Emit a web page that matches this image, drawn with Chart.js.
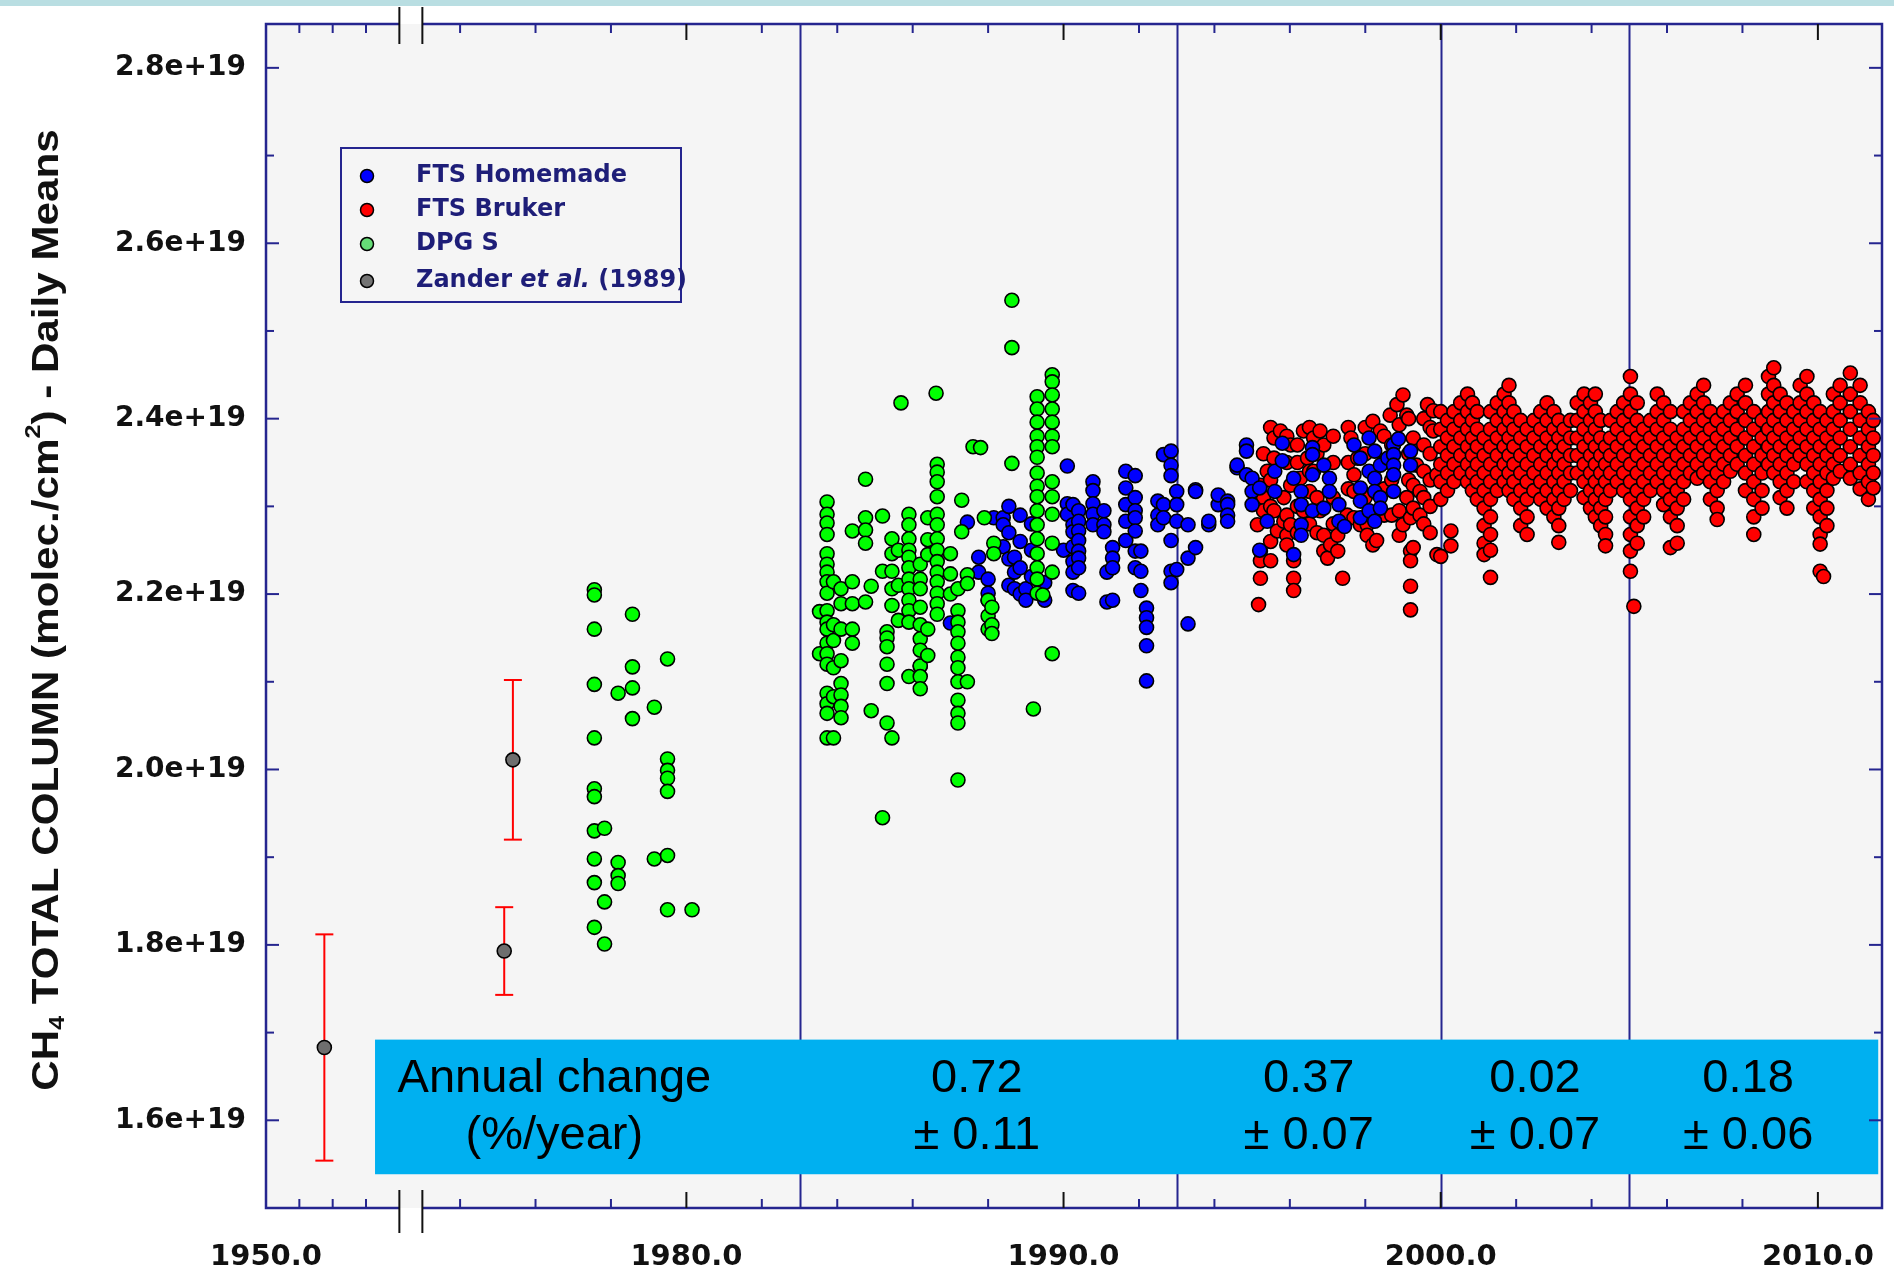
<!DOCTYPE html>
<html>
<head>
<meta charset="utf-8">
<title>CH4 total column - daily means</title>
<script src="https://cdn.jsdelivr.net/npm/chart.js@4.4.1/dist/chart.umd.min.js"></script>
<style>
    html, body { margin: 0; padding: 0; background: #ffffff; }
    #wrap { position: relative; width: 1894px; height: 1272px; }
    #band { position: absolute; left: 0; top: 0; width: 1894px; height: 6px; background: #b9dee2; z-index: 2; }
</style>
</head>
<body>
<div id="wrap">
    <div id="band"></div>
    <canvas id="ch4Chart"></canvas>
</div>
<script>
// Column values are in units of 1e19 molec./cm2

// Time axis is broken: 1950-1954 squeezed, 1954-1973 cut out
const BREAK_FROM = 1954;
const BREAK_TO = 1973;
const LEFT_STRETCH = 0.884;
const BREAK_GAP = 0.61;
const X_END = 2011.7;

const xLabelYears = [1950, 1980, 1990, 2000, 2010];
const xMinorYears = [1951, 1952, 1953, 1974, 1976, 1978, 1982, 1984, 1986, 1988,
    1992, 1994, 1996, 1998, 2002, 2004, 2006, 2008];
const yLabelValues = [1.6, 1.8, 2.0, 2.2, 2.4, 2.6, 2.8];
const yMinorValues = [1.7, 1.9, 2.1, 2.3, 2.5, 2.7];

// Trend periods and annual change (%/year)
const periodBounds = [1983, 1993, 2000, 2005];
const trendCenters = [1987.7, 1996.5, 2002.5, 2008.15];
const trendRates = ['0.72', '0.37', '0.02', '0.18'];
const trendErrors = ['\u00b1 0.11', '\u00b1 0.07', '\u00b1 0.07', '\u00b1 0.06'];

// Zander et al. (1989) historical values with error bars
const zanderYears = [1951.75, 1975.17, 1975.40];
const zanderValues = [1.683, 1.793, 2.011];
const zanderErrors = [0.129, 0.050, 0.091];

// [year, [daily means ...]]
const dpgsColumns = [
    [1977.56, [2.205, 2.199, 2.160, 2.097, 2.036, 1.978, 1.969, 1.930, 1.898, 1.871, 1.820]],
    [1977.83, [1.933, 1.849, 1.801]],
    [1978.19, [2.087, 1.894, 1.879, 1.870]],
    [1978.57, [2.177, 2.117, 2.093, 2.058]],
    [1979.15, [2.071, 1.898]],
    [1979.50, [2.126, 2.012, 1.999, 1.990, 1.975, 1.902, 1.840]],
    [1980.15, [1.840]],
    [1983.53, [2.132, 2.180]],
    [1983.73, [2.305, 2.291, 2.281, 2.268, 2.246, 2.234, 2.225, 2.214, 2.201, 2.181, 2.168, 2.160, 2.144, 2.132, 2.120, 2.087, 2.075, 2.064, 2.036]],
    [1983.90, [2.214, 2.165, 2.147, 2.116, 2.083, 2.036]],
    [1984.10, [2.206, 2.189, 2.160, 2.124, 2.098, 2.085, 2.072, 2.059]],
    [1984.40, [2.272, 2.214, 2.189, 2.160, 2.144]],
    [1984.75, [2.331, 2.287, 2.273, 2.258, 2.191]],
    [1984.90, [2.209, 2.067]],
    [1985.20, [2.289, 2.226, 1.945]],
    [1985.32, [2.157, 2.150, 2.140, 2.120, 2.098, 2.053]],
    [1985.45, [2.263, 2.246, 2.226, 2.206, 2.187, 2.036]],
    [1985.62, [2.250, 2.210, 2.170]],
    [1985.69, [2.418]],
    [1985.90, [2.291, 2.279, 2.263, 2.250, 2.242, 2.230, 2.217, 2.206, 2.193, 2.181, 2.168, 2.106]],
    [1986.20, [2.234, 2.217, 2.206, 2.185, 2.165, 2.149, 2.136, 2.118, 2.106, 2.092]],
    [1986.40, [2.287, 2.262, 2.245, 2.160, 2.130]],
    [1986.62, [2.429]],
    [1986.65, [2.348, 2.339, 2.328, 2.311, 2.291, 2.279, 2.263, 2.250, 2.237, 2.225, 2.214, 2.201, 2.189, 2.177]],
    [1987.00, [2.246, 2.223, 2.200]],
    [1987.20, [2.206, 2.181, 2.168, 2.157, 2.144, 2.128, 2.116, 2.100, 2.079, 2.064, 2.053, 1.988]],
    [1987.30, [2.307, 2.271]],
    [1987.45, [2.222, 2.212, 2.100]],
    [1987.60, [2.368]],
    [1987.80, [2.367]],
    [1987.90, [2.287]],
    [1988.00, [2.193, 2.175, 2.160]],
    [1988.10, [2.185, 2.165, 2.155]],
    [1988.15, [2.258, 2.246]],
    [1988.63, [2.535, 2.481, 2.349]],
    [1989.20, [2.069]],
    [1989.30, [2.425, 2.411, 2.396, 2.380, 2.368, 2.356, 2.338, 2.323, 2.311, 2.295, 2.279, 2.263, 2.246, 2.230, 2.217, 2.201]],
    [1989.45, [2.199]],
    [1989.70, [2.450, 2.442, 2.427, 2.411, 2.396, 2.380, 2.368, 2.328, 2.311, 2.291, 2.258, 2.225, 2.132]]
];

const homemadeColumns = [
    [1986.20, [2.118]],
    [1987.00, [2.167]],
    [1987.45, [2.282]],
    [1987.75, [2.242, 2.225]],
    [1988.00, [2.217, 2.201, 2.193]],
    [1988.15, [2.287]],
    [1988.40, [2.287, 2.279, 2.254]],
    [1988.55, [2.300, 2.270, 2.240, 2.210]],
    [1988.70, [2.242, 2.225, 2.206]],
    [1988.85, [2.290, 2.260, 2.230, 2.200]],
    [1989.00, [2.206, 2.193]],
    [1989.15, [2.280, 2.250, 2.220]],
    [1989.50, [2.213, 2.193]],
    [1990.00, [2.250]],
    [1990.10, [2.346, 2.303, 2.291]],
    [1990.25, [2.302, 2.279, 2.271, 2.254, 2.237, 2.225, 2.204]],
    [1990.40, [2.295, 2.283, 2.272, 2.261, 2.249, 2.241, 2.230, 2.201]],
    [1990.78, [2.328, 2.318, 2.303, 2.291, 2.279]],
    [1991.07, [2.295, 2.279, 2.271]],
    [1991.15, [2.225, 2.191]],
    [1991.30, [2.253, 2.241, 2.230, 2.193]],
    [1991.65, [2.340, 2.321, 2.302, 2.283, 2.261]],
    [1991.90, [2.335, 2.310, 2.295, 2.287, 2.272, 2.249, 2.230]],
    [1992.05, [2.249, 2.226, 2.204]],
    [1992.20, [2.184, 2.173, 2.162, 2.141, 2.101]],
    [1992.50, [2.306, 2.290, 2.279]],
    [1992.65, [2.359, 2.302, 2.287]],
    [1992.85, [2.363, 2.347, 2.335, 2.261, 2.226, 2.213]],
    [1993.00, [2.317, 2.302, 2.283, 2.228]],
    [1993.30, [2.279, 2.241, 2.166]],
    [1993.50, [2.319, 2.317, 2.253]],
    [1993.85, [2.279, 2.283]],
    [1994.10, [2.302, 2.313]],
    [1994.35, [2.306, 2.302, 2.290, 2.283]],
    [1994.60, [2.344, 2.347]],
    [1994.85, [2.370, 2.363, 2.336]],
    [1995.00, [2.332, 2.317, 2.302]],
    [1995.20, [2.321, 2.250]],
    [1995.40, [2.283]],
    [1995.60, [2.340, 2.317]],
    [1995.80, [2.372, 2.352]],
    [1996.10, [2.332, 2.245]],
    [1996.30, [2.317, 2.302, 2.279, 2.267]],
    [1996.60, [2.367, 2.359, 2.336, 2.295]],
    [1996.90, [2.347, 2.298]],
    [1997.05, [2.332, 2.317]],
    [1997.30, [2.302, 2.283]],
    [1997.45, [2.277]],
    [1997.70, [2.370]],
    [1997.87, [2.355, 2.321, 2.306, 2.287]],
    [1998.10, [2.378, 2.340, 2.295]],
    [1998.25, [2.363, 2.332, 2.317, 2.283]],
    [1998.40, [2.347, 2.310, 2.298]],
    [1998.60, [2.355]],
    [1998.75, [2.370, 2.359, 2.347, 2.336, 2.317]],
    [1998.88, [2.377]],
    [1999.20, [2.363, 2.347]]
];

const brukerColumns = [
    [1995.14, [2.279]],
    [1995.17, [2.188]],
    [1995.22, [2.324, 2.249, 2.238, 2.218]],
    [1995.30, [2.360, 2.310, 2.295]],
    [1995.40, [2.340]],
    [1995.49, [2.390, 2.330, 2.300, 2.260, 2.238]],
    [1995.58, [2.378, 2.355, 2.295]],
    [1995.67, [2.272]],
    [1995.75, [2.386]],
    [1995.84, [2.310, 2.283]],
    [1995.92, [2.380, 2.350, 2.290, 2.267, 2.256]],
    [1996.02, [2.370, 2.324, 2.279]],
    [1996.10, [2.238, 2.218, 2.204]],
    [1996.20, [2.370, 2.350, 2.300, 2.270]],
    [1996.28, [2.332]],
    [1996.36, [2.386, 2.295]],
    [1996.47, [2.355]],
    [1996.52, [2.390, 2.340, 2.317, 2.280]],
    [1996.63, [2.378, 2.340]],
    [1996.72, [2.360, 2.310, 2.270]],
    [1996.80, [2.386, 2.295]],
    [1996.90, [2.370, 2.267, 2.249]],
    [1997.00, [2.241]],
    [1997.08, [2.256]],
    [1997.15, [2.380, 2.350, 2.310, 2.280]],
    [1997.27, [2.267, 2.249]],
    [1997.40, [2.279, 2.218]],
    [1997.52, [2.290]],
    [1997.55, [2.390, 2.350, 2.320]],
    [1997.62, [2.378]],
    [1997.70, [2.336, 2.317, 2.287]],
    [1997.80, [2.355]],
    [1997.87, [2.279]],
    [1998.00, [2.390, 2.360, 2.310]],
    [1998.05, [2.279, 2.267]],
    [1998.20, [2.397, 2.256]],
    [1998.30, [2.261]],
    [1998.40, [2.386]],
    [1998.50, [2.380, 2.350, 2.320, 2.290]],
    [1998.66, [2.404]],
    [1998.70, [2.370, 2.330, 2.290]],
    [1998.84, [2.416]],
    [1998.90, [2.393, 2.295, 2.267]],
    [1999.00, [2.427, 2.279]],
    [1999.10, [2.404, 2.310]],
    [1999.15, [2.400, 2.360, 2.330]],
    [1999.20, [2.287, 2.249, 2.238, 2.209, 2.182]],
    [1999.27, [2.378, 2.324, 2.298, 2.253]],
    [1999.36, [2.347]],
    [1999.45, [2.317, 2.290]],
    [1999.55, [2.400, 2.370, 2.340, 2.310, 2.280]],
    [1999.65, [2.416]],
    [1999.72, [2.390, 2.360, 2.330, 2.300, 2.270]],
    [1999.80, [2.409, 2.386]],
    [1999.90, [2.336, 2.245]],
    [2000.00, [2.408, 2.388, 2.368, 2.348, 2.328, 2.308, 2.243]],
    [2000.18, [2.398, 2.378, 2.358, 2.338, 2.318]],
    [2000.27, [2.272, 2.255]],
    [2000.35, [2.408, 2.388, 2.368, 2.348, 2.328]],
    [2000.53, [2.418, 2.398, 2.378, 2.358, 2.338]],
    [2000.71, [2.428, 2.408, 2.388, 2.368, 2.348, 2.328]],
    [2000.84, [2.418, 2.398, 2.378, 2.358, 2.338, 2.318]],
    [2000.97, [2.408, 2.388, 2.368, 2.348, 2.328, 2.308]],
    [2001.15, [2.378, 2.358, 2.338, 2.318, 2.298, 2.278, 2.258, 2.245]],
    [2001.32, [2.408, 2.388, 2.368, 2.348, 2.328, 2.308, 2.288, 2.268, 2.250, 2.219]],
    [2001.50, [2.418, 2.398, 2.378, 2.358, 2.338, 2.318]],
    [2001.68, [2.428, 2.408, 2.388, 2.368, 2.348, 2.328]],
    [2001.81, [2.438, 2.418, 2.398, 2.378, 2.358, 2.338, 2.318]],
    [2001.94, [2.408, 2.388, 2.368, 2.348, 2.328, 2.308]],
    [2002.12, [2.398, 2.378, 2.358, 2.338, 2.318, 2.298, 2.278]],
    [2002.29, [2.388, 2.368, 2.348, 2.328, 2.308, 2.288, 2.268]],
    [2002.47, [2.398, 2.378, 2.358, 2.338, 2.318]],
    [2002.65, [2.408, 2.388, 2.368, 2.348, 2.328, 2.308]],
    [2002.82, [2.418, 2.398, 2.378, 2.358, 2.338, 2.318, 2.298]],
    [2003.00, [2.408, 2.388, 2.368, 2.348, 2.328, 2.308, 2.288]],
    [2003.13, [2.398, 2.378, 2.358, 2.338, 2.318, 2.298, 2.278, 2.259]],
    [2003.27, [2.388, 2.368, 2.348, 2.328, 2.308]],
    [2003.44, [2.398, 2.378, 2.358, 2.338, 2.318]],
    [2003.62, [2.418, 2.398, 2.378, 2.358, 2.338]],
    [2003.80, [2.428, 2.408, 2.388, 2.368, 2.348, 2.328, 2.310]],
    [2003.97, [2.418, 2.398, 2.378, 2.358, 2.338, 2.318, 2.298]],
    [2004.10, [2.428, 2.408, 2.388, 2.368, 2.348, 2.328, 2.308, 2.288]],
    [2004.24, [2.398, 2.378, 2.358, 2.338, 2.318, 2.298, 2.278]],
    [2004.37, [2.368, 2.348, 2.328, 2.308, 2.288, 2.268, 2.255]],
    [2004.50, [2.398, 2.378, 2.358, 2.338, 2.318]],
    [2004.68, [2.408, 2.388, 2.368, 2.348, 2.328]],
    [2004.85, [2.418, 2.398, 2.378, 2.358, 2.338, 2.318]],
    [2005.03, [2.448, 2.428, 2.408, 2.388, 2.368, 2.348, 2.328, 2.308, 2.288, 2.268, 2.249, 2.226]],
    [2005.12, [2.186]],
    [2005.21, [2.418, 2.398, 2.378, 2.358, 2.338, 2.318, 2.298, 2.278, 2.258]],
    [2005.38, [2.388, 2.368, 2.348, 2.328, 2.308, 2.288]],
    [2005.56, [2.398, 2.378, 2.358, 2.338, 2.318]],
    [2005.74, [2.428, 2.408, 2.388, 2.368, 2.348, 2.328]],
    [2005.91, [2.418, 2.398, 2.378, 2.358, 2.338, 2.318, 2.302]],
    [2006.09, [2.408, 2.388, 2.368, 2.348, 2.328, 2.308, 2.288, 2.253]],
    [2006.27, [2.378, 2.358, 2.338, 2.318, 2.298, 2.278, 2.258]],
    [2006.44, [2.408, 2.388, 2.368, 2.348, 2.328, 2.308]],
    [2006.62, [2.418, 2.398, 2.378, 2.358, 2.338]],
    [2006.80, [2.428, 2.408, 2.388, 2.368, 2.348, 2.332]],
    [2006.97, [2.438, 2.418, 2.398, 2.378, 2.358, 2.338]],
    [2007.15, [2.408, 2.388, 2.368, 2.348, 2.328, 2.308]],
    [2007.33, [2.398, 2.378, 2.358, 2.338, 2.318, 2.298, 2.285]],
    [2007.50, [2.408, 2.388, 2.368, 2.348, 2.328]],
    [2007.68, [2.418, 2.398, 2.378, 2.358, 2.340]],
    [2007.86, [2.428, 2.408, 2.388, 2.368, 2.348]],
    [2008.08, [2.438, 2.418, 2.398, 2.378, 2.358, 2.338, 2.318]],
    [2008.30, [2.408, 2.388, 2.368, 2.348, 2.328, 2.308, 2.288, 2.268]],
    [2008.52, [2.398, 2.378, 2.358, 2.338, 2.318, 2.298]],
    [2008.69, [2.448, 2.428, 2.408, 2.388, 2.368, 2.348]],
    [2008.83, [2.458, 2.438, 2.418, 2.398, 2.378, 2.358, 2.338]],
    [2009.00, [2.428, 2.408, 2.388, 2.368, 2.348, 2.328, 2.310]],
    [2009.18, [2.418, 2.398, 2.378, 2.358, 2.338, 2.318, 2.298]],
    [2009.36, [2.408, 2.388, 2.368, 2.348, 2.328]],
    [2009.53, [2.438, 2.418, 2.398, 2.378, 2.358]],
    [2009.71, [2.448, 2.428, 2.408, 2.388, 2.368, 2.348, 2.328]],
    [2009.89, [2.418, 2.398, 2.378, 2.358, 2.338, 2.318, 2.298]],
    [2010.06, [2.408, 2.388, 2.368, 2.348, 2.328, 2.308, 2.288, 2.268, 2.257, 2.226]],
    [2010.15, [2.220]],
    [2010.24, [2.398, 2.378, 2.358, 2.338, 2.318, 2.298, 2.278]],
    [2010.41, [2.428, 2.408, 2.388, 2.368, 2.348, 2.332]],
    [2010.59, [2.438, 2.418, 2.398, 2.378, 2.358, 2.340]],
    [2010.86, [2.452, 2.428, 2.408, 2.388, 2.368, 2.348, 2.332]],
    [2011.12, [2.438, 2.418, 2.398, 2.378, 2.358, 2.338, 2.320]],
    [2011.34, [2.408, 2.388, 2.368, 2.348, 2.328, 2.308]],
    [2011.47, [2.398, 2.378, 2.358, 2.338, 2.321]]
];

const NAVY = '#25258f';
const PLOT_BG = '#f5f5f5';
const BOX_BLUE = '#00b0f0';

function axisPos(year) {
    if (year <= BREAK_FROM) return (year - 1950) * LEFT_STRETCH;
    return (BREAK_FROM - 1950) * LEFT_STRETCH + BREAK_GAP + (year - BREAK_TO);
}

function columnsToPoints(columns) {
    const pts = [];
    columns.forEach(([year, values]) => {
        values.forEach(v => pts.push({ x: axisPos(year), y: v }));
    });
    return pts;
}

const zanderPoints = zanderYears.map((yr, i) => ({ x: axisPos(yr), y: zanderValues[i] }));

function line(ctx, x1, y1, x2, y2) {
    ctx.beginPath();
    ctx.moveTo(x1, y1);
    ctx.lineTo(x2, y2);
    ctx.stroke();
}

// Frame, ticks, break marks, trend box, legend and axis title
const decorPlugin = {
    id: 'decor',
    beforeDraw(chart) {
        const { ctx, chartArea: a } = chart;
        ctx.save();
        ctx.fillStyle = PLOT_BG;
        ctx.fillRect(a.left, a.top, a.right - a.left, a.bottom - a.top);
        ctx.restore();
    },
    beforeDatasetsDraw(chart) {
        const { ctx, chartArea: a, scales: { x, y } } = chart;
        ctx.save();
        ctx.strokeStyle = NAVY;
        ctx.lineWidth = 2;
        periodBounds.forEach(yr => {
            const px = Math.round(x.getPixelForValue(axisPos(yr))) + 0.5;
            line(ctx, px, a.top, px, a.bottom);
        });
        // error bars of the historical values
        ctx.strokeStyle = '#ff0000';
        ctx.lineWidth = 2;
        zanderYears.forEach((yr, i) => {
            const px = x.getPixelForValue(axisPos(yr));
            const hi = y.getPixelForValue(zanderValues[i] + zanderErrors[i]);
            const lo = y.getPixelForValue(zanderValues[i] - zanderErrors[i]);
            line(ctx, px, hi, px, lo);
            line(ctx, px - 9, hi, px + 9, hi);
            line(ctx, px - 9, lo, px + 9, lo);
        });
        ctx.restore();
    },
    afterDatasetsDraw(chart) {
        const { ctx, chartArea: a, scales: { x, y } } = chart;
        ctx.save();

        // annual change box
        const bx1 = x.getPixelForValue(axisPos(1953.27));
        const bx2 = x.getPixelForValue(axisPos(2011.6));
        const by1 = y.getPixelForValue(1.692);
        const by2 = y.getPixelForValue(1.5385);
        ctx.fillStyle = BOX_BLUE;
        ctx.fillRect(bx1, by1, bx2 - bx1, by2 - by1);
        const row1 = by1 + (by2 - by1) * 0.29;
        const row2 = by1 + (by2 - by1) * 0.72;
        ctx.fillStyle = '#000';
        ctx.font = '47px "Liberation Sans", Arial, sans-serif';
        ctx.textAlign = 'center';
        ctx.textBaseline = 'middle';
        const hx = x.getPixelForValue(axisPos(1976.5));
        ctx.fillText('Annual change', hx, row1);
        ctx.fillText('(%/year)', hx, row2);
        trendCenters.forEach((yr, i) => {
            const cx = x.getPixelForValue(axisPos(yr));
            ctx.fillText(trendRates[i], cx, row1);
            ctx.fillText(trendErrors[i], cx, row2);
        });

        // plot frame, interrupted at the axis break
        const b1 = x.getPixelForValue(axisPos(BREAK_FROM));
        const b2 = x.getPixelForValue(axisPos(BREAK_TO));
        ctx.strokeStyle = NAVY;
        ctx.lineWidth = 2.5;
        ctx.beginPath();
        ctx.moveTo(b1, a.top); ctx.lineTo(a.left, a.top); ctx.lineTo(a.left, a.bottom); ctx.lineTo(b1, a.bottom);
        ctx.moveTo(b2, a.top); ctx.lineTo(a.right, a.top); ctx.lineTo(a.right, a.bottom); ctx.lineTo(b2, a.bottom);
        ctx.stroke();

        // inward ticks
        ctx.lineWidth = 2;
        xMinorYears.forEach(yr => {
            const px = x.getPixelForValue(axisPos(yr));
            line(ctx, px, a.bottom, px, a.bottom - 9);
            line(ctx, px, a.top, px, a.top + 9);
        });
        yLabelValues.forEach(v => {
            const py = y.getPixelForValue(v);
            line(ctx, a.left, py, a.left + 13, py);
            line(ctx, a.right, py, a.right - 13, py);
        });
        yMinorValues.forEach(v => {
            const py = y.getPixelForValue(v);
            line(ctx, a.left, py, a.left + 8, py);
            line(ctx, a.right, py, a.right - 8, py);
        });
        ctx.strokeStyle = '#111';
        xLabelYears.forEach(yr => {
            const px = x.getPixelForValue(axisPos(yr));
            if (px < a.left + 3) return;
            line(ctx, px, a.bottom, px, a.bottom - 16);
            line(ctx, px, a.top, px, a.top + 16);
        });
        // break marks
        [b1, b2].forEach(px => {
            line(ctx, px, a.top - 17, px, a.top + 20);
            line(ctx, px, a.bottom - 18, px, a.bottom + 25);
        });

        // legend
        const lx = a.left + 75, ly = a.top + 124;
        ctx.fillStyle = PLOT_BG;
        ctx.fillRect(lx, ly, 340, 154);
        ctx.strokeStyle = NAVY;
        ctx.lineWidth = 2;
        ctx.strokeRect(lx, ly, 340, 154);
        const entries = [
            ['#0000ff', 'FTS Homemade', 28],
            ['#ff0000', 'FTS Bruker', 62],
            ['#66dd77', 'DPG S', 96],
            ['#747474', null, 133]
        ];
        ctx.textAlign = 'left';
        ctx.textBaseline = 'middle';
        entries.forEach(([color, text, dy]) => {
            const cy = ly + dy;
            ctx.beginPath();
            ctx.arc(lx + 26, cy, 6.5, 0, Math.PI * 2);
            ctx.fillStyle = color;
            ctx.fill();
            ctx.strokeStyle = '#000';
            ctx.lineWidth = 1.5;
            ctx.stroke();
            ctx.fillStyle = '#1e1e78';
            let tx = lx + 75;
            const parts = text ? [[text, '']] : [['Zander ', ''], ['et al.', 'italic '], [' (1989)', '']];
            parts.forEach(([s, style]) => {
                ctx.font = style + 'bold 24px "DejaVu Sans", Verdana, sans-serif';
                ctx.fillText(s, tx, cy);
                tx += ctx.measureText(s).width;
            });
        });

        ctx.restore();
    },
    afterDraw(chart) {
        const { ctx } = chart;
        // y axis title with sub/superscripts
        const parts = [
            ['CH', 37, 0],
            ['4', 22, 10],
            [' TOTAL COLUMN (molec./cm', 37, 0],
            ['2', 22, -14],
            [') - Daily Means', 37, 0]
        ];
        ctx.save();
        ctx.translate(48, 610);
        ctx.rotate(-Math.PI / 2);
        ctx.scale(1.14, 1);
        ctx.fillStyle = '#111';
        ctx.textBaseline = 'middle';
        ctx.textAlign = 'left';
        let total = 0;
        parts.forEach(([s, size]) => {
            ctx.font = 'bold ' + size + 'px "Liberation Sans", Arial, sans-serif';
            total += ctx.measureText(s).width;
        });
        let tx = -total / 2;
        parts.forEach(([s, size, dy]) => {
            ctx.font = 'bold ' + size + 'px "Liberation Sans", Arial, sans-serif';
            ctx.fillText(s, tx, dy);
            tx += ctx.measureText(s).width;
        });
        ctx.restore();
    }
};

const pointStyle = { pointRadius: 7, pointBorderWidth: 1.6, pointBorderColor: '#000' };

new Chart(document.getElementById('ch4Chart').getContext('2d'), {
    type: 'scatter',
    data: {
        datasets: [
            { label: 'Zander et al. (1989)', data: zanderPoints, pointBackgroundColor: '#6e6e6e', order: 0, ...pointStyle },
            { label: 'DPGS', data: columnsToPoints(dpgsColumns), pointBackgroundColor: '#00ff00', order: 1, ...pointStyle },
            { label: 'FTS Homemade', data: columnsToPoints(homemadeColumns), pointBackgroundColor: '#0000ff', order: 2, ...pointStyle },
            { label: 'FTS Bruker', data: columnsToPoints(brukerColumns), pointBackgroundColor: '#ff0000', order: 3, ...pointStyle }
        ]
    },
    options: {
        responsive: true,
        maintainAspectRatio: false,
        animation: false,
        events: [],
        layout: { padding: { left: 0, right: 12, top: 24, bottom: 0 } },
        plugins: {
            legend: { display: false },
            tooltip: { enabled: false }
        },
        scales: {
            x: {
                type: 'linear',
                min: 0,
                max: axisPos(X_END),
                afterFit: scale => {
                    scale.height = 64;
                    scale.paddingLeft = 0;
                    scale.paddingRight = 0;
                },
                afterBuildTicks: scale => {
                    scale.ticks = xLabelYears.map(yr => ({ value: axisPos(yr) }));
                },
                grid: { display: false },
                border: { display: false },
                ticks: {
                    autoSkip: false,
                    maxRotation: 0,
                    padding: 24,
                    color: '#111',
                    font: { family: '"DejaVu Sans", Verdana, sans-serif', weight: 'bold', size: 29 },
                    callback: (value, index) => xLabelYears[index].toFixed(1)
                }
            },
            y: {
                type: 'linear',
                min: 1.5,
                max: 2.85,
                afterFit: scale => {
                    scale.width = 266;
                    scale.paddingTop = 0;
                    scale.paddingBottom = 0;
                },
                afterBuildTicks: scale => {
                    scale.ticks = yLabelValues.map(v => ({ value: v }));
                },
                grid: { display: false },
                border: { display: false },
                ticks: {
                    padding: 12,
                    color: '#111',
                    font: { family: '"DejaVu Sans", Verdana, sans-serif', weight: 'bold', size: 28 },
                    callback: value => value.toFixed(1) + 'e+19'
                }
            }
        }
    },
    plugins: [decorPlugin]
});
</script>
</body>
</html>
